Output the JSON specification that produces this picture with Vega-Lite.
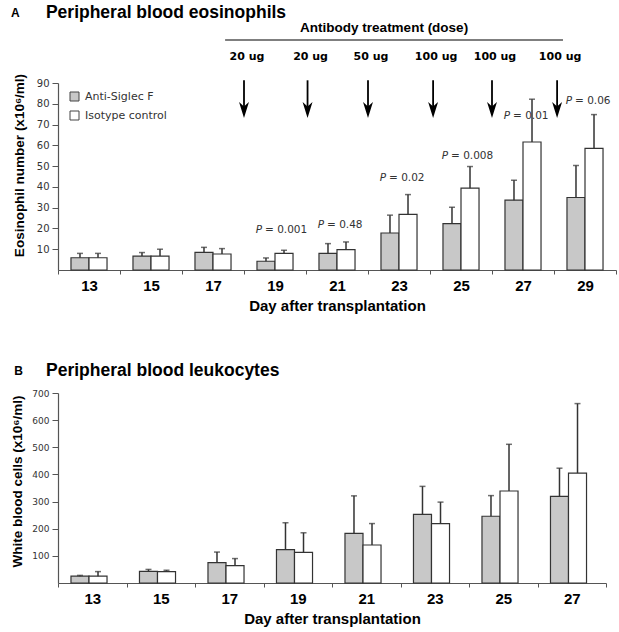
{
  "$schema": "https://vega.github.io/schema/vega-lite/v6.json",
  "padding": {"left": 10, "top": 4, "right": 2, "bottom": 2},
  "spacing": 49,
  "config": {
    "view": {"stroke": null},
    "font": "DejaVu Sans",
    "axis": {"grid": false, "domainColor": "#555", "tickColor": "#555", "domainWidth": 1.2}
  },
  "datasets": {
    "eos": [
      {"day": 13, "group": "Anti-Siglec F", "value": 5.9, "hi": 8.0},
      {"day": 13, "group": "Isotype control", "value": 5.9, "hi": 8.0},
      {"day": 15, "group": "Anti-Siglec F", "value": 6.7, "hi": 8.4},
      {"day": 15, "group": "Isotype control", "value": 6.7, "hi": 10.0},
      {"day": 17, "group": "Anti-Siglec F", "value": 8.5, "hi": 10.9},
      {"day": 17, "group": "Isotype control", "value": 7.7, "hi": 10.3},
      {"day": 19, "group": "Anti-Siglec F", "value": 4.2, "hi": 5.8},
      {"day": 19, "group": "Isotype control", "value": 8.0, "hi": 9.5},
      {"day": 21, "group": "Anti-Siglec F", "value": 8.0, "hi": 12.7},
      {"day": 21, "group": "Isotype control", "value": 9.8, "hi": 13.5},
      {"day": 23, "group": "Anti-Siglec F", "value": 17.8, "hi": 26.4},
      {"day": 23, "group": "Isotype control", "value": 26.8, "hi": 36.3},
      {"day": 25, "group": "Anti-Siglec F", "value": 22.3, "hi": 30.2},
      {"day": 25, "group": "Isotype control", "value": 39.4, "hi": 49.8},
      {"day": 27, "group": "Anti-Siglec F", "value": 33.6, "hi": 43.2},
      {"day": 27, "group": "Isotype control", "value": 61.6, "hi": 82.2},
      {"day": 29, "group": "Anti-Siglec F", "value": 34.9, "hi": 50.3},
      {"day": 29, "group": "Isotype control", "value": 58.5, "hi": 74.8}
    ],
    "pvals": [
      {"day": 19, "p": "= 0.001", "at": 19.3},
      {"day": 21, "p": "= 0.48", "at": 21.7},
      {"day": 23, "p": "= 0.02", "at": 44.2},
      {"day": 25, "p": "= 0.008", "at": 55.0},
      {"day": 27, "p": "= 0.01", "at": 74.0},
      {"day": 29, "p": "= 0.06", "at": 81.5}
    ],
    "doses": [
      {"day": 18.0, "dose": "20 ug"},
      {"day": 20.05, "dose": "20 ug"},
      {"day": 22.0, "dose": "50 ug"},
      {"day": 24.1, "dose": "100 ug"},
      {"day": 26.0, "dose": "100 ug"},
      {"day": 28.1, "dose": "100 ug"}
    ],
    "wbc": [
      {"day": 13, "group": "Anti-Siglec F", "value": 25, "hi": 28},
      {"day": 13, "group": "Isotype control", "value": 25, "hi": 42},
      {"day": 15, "group": "Anti-Siglec F", "value": 43, "hi": 50},
      {"day": 15, "group": "Isotype control", "value": 42, "hi": 47},
      {"day": 17, "group": "Anti-Siglec F", "value": 75, "hi": 114},
      {"day": 17, "group": "Isotype control", "value": 64, "hi": 90},
      {"day": 19, "group": "Anti-Siglec F", "value": 123, "hi": 222},
      {"day": 19, "group": "Isotype control", "value": 113, "hi": 185},
      {"day": 21, "group": "Anti-Siglec F", "value": 183, "hi": 321},
      {"day": 21, "group": "Isotype control", "value": 140, "hi": 219},
      {"day": 23, "group": "Anti-Siglec F", "value": 253, "hi": 356},
      {"day": 23, "group": "Isotype control", "value": 219, "hi": 298},
      {"day": 25, "group": "Anti-Siglec F", "value": 246, "hi": 322},
      {"day": 25, "group": "Isotype control", "value": 339, "hi": 511},
      {"day": 27, "group": "Anti-Siglec F", "value": 319, "hi": 423},
      {"day": 27, "group": "Isotype control", "value": 405, "hi": 661}
    ]
  },
  "vconcat": [
    {
      "width": 558,
      "height": 187,
      "resolve": {"scale": {"x": "independent"}, "axis": {"x": "independent"}},
      "layer": [
        {
          "encoding": {
            "x": {
              "field": "day", "type": "ordinal",
              "scale": {"paddingInner": 0, "paddingOuter": 0},
              "axis": {
                "title": "Day after transplantation", "labelAngle": 0,
                "tickBand": "extent", "tickSize": 4,
                "labelFont": "Liberation Sans", "labelFontSize": 15, "labelFontWeight": "bold", "labelColor": "black",
                "labelPadding": 4,
                "titleFont": "Liberation Sans", "titleFontSize": 15, "titleFontWeight": "bold", "titleColor": "black",
                "titlePadding": 5
              }
            }
          },
          "layer": [
            {
              "data": {"name": "eos"},
              "mark": {"type": "bar", "stroke": "#333", "strokeWidth": 1.2},
              "encoding": {
                "xOffset": {"field": "group", "sort": ["Anti-Siglec F", "Isotype control"], "scale": {"paddingOuter": 0.72, "paddingInner": 0}},
                "y": {
                  "field": "value", "type": "quantitative",
                  "scale": {"domain": [0, 90]},
                  "axis": {
                    "title": "Eosinophil number (x10⁶/ml)",
                    "values": [10, 20, 30, 40, 50, 60, 70, 80, 90],
                    "tickCount": 9, "labelOverlap": false,
                    "labelFontSize": 10, "labelColor": "#333", "tickSize": 6, "labelPadding": 3,
                    "titleFont": "Liberation Sans", "titleFontSize": 13.5, "titleFontWeight": "bold", "titleColor": "black",
                    "titlePadding": 10, "titleY": 82
                  }
                },
                "fill": {
                  "field": "group", "type": "nominal",
                  "scale": {"domain": ["Anti-Siglec F", "Isotype control"], "range": ["#c8c8c8", "#ffffff"]},
                  "legend": {
                    "title": null, "orient": "none", "legendX": 11, "legendY": 8,
                    "symbolType": "square", "symbolSize": 81, "symbolStrokeColor": "#444", "symbolStrokeWidth": 1,
                    "labelFontSize": 11, "labelColor": "#333", "labelOffset": 5, "rowPadding": 6
                  }
                }
              }
            },
            {
              "data": {"name": "eos"},
              "mark": {"type": "rule", "color": "#333", "strokeWidth": 1.5},
              "encoding": {
                "xOffset": {"field": "group", "sort": ["Anti-Siglec F", "Isotype control"], "scale": {"paddingOuter": 0.72, "paddingInner": 0}},
                "y": {"field": "value", "type": "quantitative", "scale": {"domain": [0, 90]}},
                "y2": {"field": "hi"}
              }
            },
            {
              "data": {"name": "eos"},
              "mark": {"type": "tick", "color": "#333", "thickness": 1.5, "size": 6, "orient": "horizontal"},
              "encoding": {
                "xOffset": {"field": "group", "sort": ["Anti-Siglec F", "Isotype control"], "scale": {"paddingOuter": 0.72, "paddingInner": 0}},
                "y": {"field": "hi", "type": "quantitative", "scale": {"domain": [0, 90]}}
              }
            },
            {
              "data": {"name": "pvals"},
              "mark": {"type": "text", "align": "left", "baseline": "middle", "dx": -10, "fontSize": 10.5, "color": "#333"},
              "encoding": {
                "y": {"field": "at", "type": "quantitative", "scale": {"domain": [0, 90]}},
                "text": {"field": "p"}
              }
            },
            {
              "data": {"name": "pvals"},
              "mark": {"type": "text", "align": "right", "baseline": "middle", "dx": -13, "fontSize": 10.5, "fontStyle": "italic", "color": "#333", "text": "P"},
              "encoding": {
                "y": {"field": "at", "type": "quantitative", "scale": {"domain": [0, 90]}}
              }
            }
          ]
        },
        {
          "layer": [
            {
              "data": {"name": "doses"},
              "mark": {"type": "rule", "color": "black", "strokeWidth": 1.8},
              "encoding": {
                "x": {"field": "day", "type": "quantitative", "scale": {"domain": [12, 30], "nice": false, "zero": false}, "axis": null},
                "y": {"datum": 91.3, "type": "quantitative", "scale": {"domain": [0, 90]}},
                "y2": {"datum": 78.5}
              }
            },
            {
              "data": {"name": "doses"},
              "mark": {"type": "point", "filled": true, "color": "black", "opacity": 1, "strokeWidth": 0, "size": 256, "shape": "M0,1L-0.62,-1L0,-0.45L0.62,-1Z"},
              "encoding": {
                "x": {"field": "day", "type": "quantitative", "scale": {"domain": [12, 30], "nice": false, "zero": false}, "axis": null},
                "y": {"datum": 77, "type": "quantitative", "scale": {"domain": [0, 90]}}
              }
            },
            {
              "data": {"name": "doses"},
              "mark": {"type": "text", "font": "DejaVu Sans", "fontWeight": "bold", "fontSize": 11, "color": "black", "baseline": "middle", "dx": 3},
              "encoding": {
                "x": {"field": "day", "type": "quantitative", "scale": {"domain": [12, 30], "nice": false, "zero": false}, "axis": null},
                "y": {"datum": 102.5, "type": "quantitative", "scale": {"domain": [0, 90]}},
                "text": {"field": "dose"}
              }
            },
            {
              "data": {"values": [{}]},
              "mark": {"type": "rule", "color": "#555", "strokeWidth": 1.5},
              "encoding": {
                "x": {"datum": 17.39, "type": "quantitative", "scale": {"domain": [12, 30], "nice": false, "zero": false}, "axis": null},
                "x2": {"datum": 28.29},
                "y": {"datum": 110.7, "type": "quantitative", "scale": {"domain": [0, 90]}}
              }
            },
            {
              "data": {"values": [{}]},
              "mark": {"type": "text", "text": "Antibody treatment (dose)", "font": "Liberation Sans", "fontWeight": "bold", "fontSize": 13.5, "color": "black", "baseline": "middle", "align": "center"},
              "encoding": {
                "x": {"datum": 22.52, "type": "quantitative", "scale": {"domain": [12, 30], "nice": false, "zero": false}, "axis": null},
                "y": {"datum": 116.5, "type": "quantitative", "scale": {"domain": [0, 90]}}
              }
            },
            {
              "data": {"values": [{}]},
              "mark": {"type": "text", "text": "A", "font": "Liberation Sans", "fontWeight": "bold", "fontSize": 12, "color": "black", "baseline": "middle", "align": "left"},
              "encoding": {
                "x": {"datum": 10.48, "type": "quantitative", "scale": {"domain": [12, 30], "nice": false, "zero": false}, "axis": null},
                "y": {"datum": 123.5, "type": "quantitative", "scale": {"domain": [0, 90]}}
              }
            },
            {
              "data": {"values": [{}]},
              "mark": {"type": "text", "text": "Peripheral blood eosinophils", "font": "Liberation Sans", "fontWeight": "bold", "fontSize": 17.5, "color": "black", "baseline": "middle", "align": "left"},
              "encoding": {
                "x": {"datum": 11.61, "type": "quantitative", "scale": {"domain": [12, 30], "nice": false, "zero": false}, "axis": null},
                "y": {"datum": 123.5, "type": "quantitative", "scale": {"domain": [0, 90]}}
              }
            }
          ]
        }
      ]
    },
    {
      "width": 548,
      "height": 190,
      "resolve": {"scale": {"x": "independent"}, "axis": {"x": "independent"}},
      "layer": [
        {
          "encoding": {
            "x": {
              "field": "day", "type": "ordinal",
              "scale": {"paddingInner": 0, "paddingOuter": 0},
              "axis": {
                "title": "Day after transplantation", "labelAngle": 0,
                "tickBand": "extent", "tickSize": 4,
                "labelFont": "Liberation Sans", "labelFontSize": 15, "labelFontWeight": "bold", "labelColor": "black",
                "labelPadding": 4,
                "titleFont": "Liberation Sans", "titleFontSize": 15, "titleFontWeight": "bold", "titleColor": "black",
                "titlePadding": 5
              }
            }
          },
          "layer": [
            {
              "data": {"name": "wbc"},
              "mark": {"type": "bar", "stroke": "#333", "strokeWidth": 1.2},
              "encoding": {
                "xOffset": {"field": "group", "sort": ["Anti-Siglec F", "Isotype control"], "scale": {"paddingOuter": 0.71, "paddingInner": 0}},
                "y": {
                  "field": "value", "type": "quantitative",
                  "scale": {"domain": [0, 700]},
                  "axis": {
                    "title": "White blood cells (x10⁶/ml)",
                    "values": [100, 200, 300, 400, 500, 600, 700],
                    "tickCount": 7, "labelOverlap": false,
                    "labelFontSize": 9, "labelColor": "#333", "tickSize": 6, "labelPadding": 3,
                    "titleFont": "Liberation Sans", "titleFontSize": 13.5, "titleFontWeight": "bold", "titleColor": "black",
                    "titlePadding": 7, "titleY": 88
                  }
                },
                "fill": {
                  "field": "group", "type": "nominal",
                  "scale": {"domain": ["Anti-Siglec F", "Isotype control"], "range": ["#c8c8c8", "#ffffff"]},
                  "legend": {
                    "title": null, "orient": "none", "legendX": 11, "legendY": 5,
                    "symbolType": "square", "symbolSize": 81, "symbolStrokeColor": "#444", "symbolStrokeWidth": 1,
                    "labelFontSize": 11, "labelColor": "#333", "labelOffset": 5, "rowPadding": 6
                  }
                }
              }
            },
            {
              "data": {"name": "wbc"},
              "mark": {"type": "rule", "color": "#333", "strokeWidth": 1.5},
              "encoding": {
                "xOffset": {"field": "group", "sort": ["Anti-Siglec F", "Isotype control"], "scale": {"paddingOuter": 0.71, "paddingInner": 0}},
                "y": {"field": "value", "type": "quantitative", "scale": {"domain": [0, 700]}},
                "y2": {"field": "hi"}
              }
            },
            {
              "data": {"name": "wbc"},
              "mark": {"type": "tick", "color": "#333", "thickness": 1.5, "size": 6, "orient": "horizontal"},
              "encoding": {
                "xOffset": {"field": "group", "sort": ["Anti-Siglec F", "Isotype control"], "scale": {"paddingOuter": 0.71, "paddingInner": 0}},
                "y": {"field": "hi", "type": "quantitative", "scale": {"domain": [0, 700]}}
              }
            }
          ]
        },
        {
          "layer": [
            {
              "data": {"values": [{}]},
              "mark": {"type": "text", "text": "B", "font": "Liberation Sans", "fontWeight": "bold", "fontSize": 12, "color": "black", "baseline": "middle", "align": "left"},
              "encoding": {
                "x": {"datum": 10.72, "type": "quantitative", "scale": {"domain": [12, 28], "nice": false, "zero": false}, "axis": null},
                "y": {"datum": 781, "type": "quantitative", "scale": {"domain": [0, 700]}}
              }
            },
            {
              "data": {"values": [{}]},
              "mark": {"type": "text", "text": "Peripheral blood leukocytes", "font": "Liberation Sans", "fontWeight": "bold", "fontSize": 17.5, "color": "black", "baseline": "middle", "align": "left"},
              "encoding": {
                "x": {"datum": 11.65, "type": "quantitative", "scale": {"domain": [12, 28], "nice": false, "zero": false}, "axis": null},
                "y": {"datum": 781, "type": "quantitative", "scale": {"domain": [0, 700]}}
              }
            }
          ]
        }
      ]
    }
  ]
}
